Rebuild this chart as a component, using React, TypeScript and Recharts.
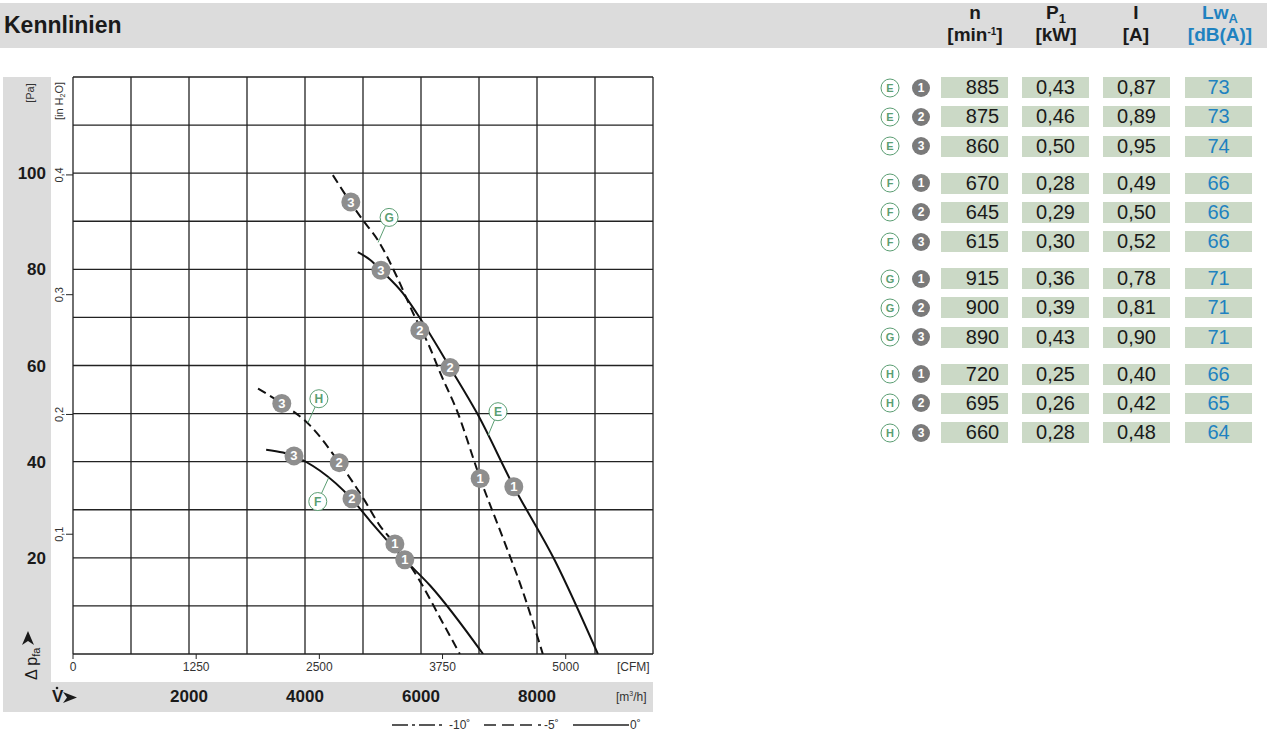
import React from 'react';
import { ComposedChart, Line, Scatter, XAxis, YAxis, CartesianGrid } from 'recharts';

// Kennlinien: Volumenstrom [m³/h] / Druckerhöhung [Pa]
const flowE = [4910, 5120, 5310, 5690, 5930, 6500, 6970, 7600, 8310, 9050];
const paE = [83.6, 82.0, 79.8, 75.0, 70.8, 59.6, 50.0, 34.8, 19.4, 0];
const flowF = [3330, 3620, 3800, 4260, 4800, 5120, 5720, 6160, 7070];
const paF = [42.5, 41.9, 41.2, 38.1, 32.3, 27.7, 19.6, 14.2, 0];
const flowG = [4480, 4780, 5000, 5260, 5590, 5860, 6150, 6330, 6620, 7020, 7410, 7710, 8100];
const paG = [99.6, 94.0, 90.2, 86.0, 78.3, 71.0, 63.8, 58.5, 50.6, 36.5, 24.2, 14.6, 0];
const flowH = [3190, 3600, 4090, 4590, 5030, 5290, 5550, 5980, 6330, 6670];
const paH = [55.2, 52.1, 47.5, 39.8, 31.9, 26.7, 22.9, 15.2, 7.5, 0];

// Betriebspunkte 1..3
const pointCurve = ['E', 'E', 'E', 'G', 'G', 'G', 'H', 'H', 'H', 'F', 'F', 'F'];
const pointNo = [3, 2, 1, 3, 2, 1, 3, 2, 1, 3, 2, 1];
const pointFlow = [5310, 6500, 7600, 4790, 5980, 7020, 3600, 4590, 5550, 3810, 4810, 5720];
const pointPa = [79.8, 59.6, 34.8, 94.0, 67.3, 36.5, 52.1, 39.8, 22.9, 41.2, 32.3, 19.6];

// Kurvenbuchstaben (Ankerpunkt auf der Kurve)
const labelCurve = ['G', 'H', 'E', 'F'];
const labelFlow = [5260, 4050, 7155, 4410];
const labelPa = [85.6, 48.1, 45.4, 36.7];

// Achsen
const paTicks = [20, 40, 60, 80, 100];
const inTicks = [0.1, 0.2, 0.3, 0.4];
const cfmTicks = [0, 1250, 2500, 3750, 5000];
const m3hTicks = [2000, 4000, 6000, 8000];
const gridFlow = [0, 1000, 2000, 3000, 4000, 5000, 6000, 7000, 8000, 9000, 10000];
const gridPa = [0, 10, 20, 30, 40, 50, 60, 70, 80, 90, 100, 110, 120];

// Tabelle
const rowCurve = ['E', 'E', 'E', 'F', 'F', 'F', 'G', 'G', 'G', 'H', 'H', 'H'];
const rowNo = [1, 2, 3, 1, 2, 3, 1, 2, 3, 1, 2, 3];
const speed = [885, 875, 860, 670, 645, 615, 915, 900, 890, 720, 695, 660];
const power = [0.43, 0.46, 0.50, 0.28, 0.29, 0.30, 0.36, 0.39, 0.43, 0.25, 0.26, 0.28];
const current = [0.87, 0.89, 0.95, 0.49, 0.50, 0.52, 0.78, 0.81, 0.90, 0.40, 0.42, 0.48];
const sound = [73, 73, 74, 66, 66, 66, 71, 71, 71, 66, 65, 64];

const PA_PER_INH2O = 249.089;
const M3H_PER_CFM = 1.69901;

const NARROW = "'Liberation Sans Narrow', 'Arial Narrow', 'Liberation Sans', sans-serif";
const GREY = '#dcdcdc';
const GREEN = '#5b9e73';
const BLUE = '#1f82c0';
const CELL = '#cbd9c6';
const INK = '#1a1a1a';

const labelOffset: Record<string, [number, number]> = { G: [11, -25], H: [11, -24], E: [10, -24], F: [-11, 24] };

const toXY = (flow: number[], pa: number[]) => flow.map((f, i) => ({ flow: f, pa: pa[i] }));
const dataE = toXY(flowE, paE);
const dataF = toXY(flowF, paF);
const dataG = toXY(flowG, paG);
const dataH = toXY(flowH, paH);
const points = pointFlow.map((f, i) => ({ flow: f, pa: pointPa[i], no: pointNo[i], curve: pointCurve[i] }));
const labels = labelFlow.map((f, i) => ({ flow: f, pa: labelPa[i], curve: labelCurve[i] }));

// CFM-Achse läuft in m³/h-Einheiten mit, Beschriftung zurückgerechnet
const cfmTicksInM3h = cfmTicks.map((c) => c * M3H_PER_CFM);

const comma = (v: number) => v.toFixed(2).replace('.', ',');

function PaTick({ x, y, payload }: any) {
  return (
    <text x={x} y={y} dy={6} textAnchor="end" fontSize={17} fontWeight="bold" fill={INK} fontFamily={NARROW}>
      {payload.value}
    </text>
  );
}

function InTick({ x, y, payload }: any) {
  return (
    <text transform={`translate(${x - 3},${y}) rotate(-90)`} textAnchor="middle" fontSize={11} fill="#333" fontFamily={NARROW}>
      {String(payload.value).replace('.', ',')}
    </text>
  );
}

function CfmTick({ x, y, payload }: any) {
  return (
    <text x={x} y={y} dy={10} textAnchor="middle" fontSize={12} fill="#333" fontFamily={NARROW}>
      {Math.round(payload.value / M3H_PER_CFM)}
    </text>
  );
}

function M3hTick({ x, y, payload }: any) {
  return (
    <text x={x} y={y} dy={26} textAnchor="middle" fontSize={17} fontWeight="bold" fill={INK} fontFamily={NARROW}>
      {payload.value}
    </text>
  );
}

function PointMark({ cx, cy, payload }: any) {
  return (
    <g>
      <circle cx={cx} cy={cy} r={9.5} fill="#8e8e8e" />
      <text x={cx} y={cy} dy={4.5} textAnchor="middle" fontSize={13} fontWeight="bold" fill="#fff" fontFamily={NARROW}>
        {payload.no}
      </text>
    </g>
  );
}

function LabelMark({ cx, cy, payload }: any) {
  const [dx, dy] = labelOffset[payload.curve];
  return (
    <g>
      <line x1={cx} y1={cy} x2={cx + dx} y2={cy + dy} stroke={GREEN} strokeWidth={1} />
      <circle cx={cx + dx} cy={cy + dy} r={9} fill="#fff" stroke={GREEN} strokeWidth={1} />
      <text x={cx + dx} y={cy + dy} dy={4.5} textAnchor="middle" fontSize={12} fontWeight="bold" fill={GREEN} fontFamily={NARROW}>
        {payload.curve}
      </text>
    </g>
  );
}

function Chart() {
  return (
    <ComposedChart width={660} height={746} margin={{ top: 77, right: 7, bottom: 34, left: 0 }}>
      <CartesianGrid
        xAxisId="m3h"
        yAxisId="pa"
        verticalValues={gridFlow}
        horizontalValues={gridPa}
        stroke="#222"
        strokeWidth={1.3}
      />
      <XAxis
        xAxisId="cfm"
        dataKey="flow"
        type="number"
        domain={[0, 10000]}
        allowDataOverflow
        ticks={cfmTicksInM3h}
        height={22}
        tickSize={5}
        tickMargin={2}
        axisLine={false}
        tickLine={{ stroke: '#222' }}
        tick={<CfmTick />}
        interval={0}
      />
      <XAxis
        xAxisId="m3h"
        dataKey="flow"
        type="number"
        domain={[0, 10000]}
        allowDataOverflow
        ticks={m3hTicks}
        height={36}
        tickSize={0}
        tickMargin={0}
        axisLine={false}
        tickLine={false}
        tick={<M3hTick />}
        interval={0}
      />
      <YAxis
        yAxisId="inh2o"
        type="number"
        domain={[0, 120 / PA_PER_INH2O]}
        allowDataOverflow
        ticks={inTicks}
        width={22}
        tickSize={7}
        tickMargin={0}
        axisLine={false}
        tickLine={{ stroke: '#222' }}
        tick={<InTick />}
        interval={0}
      />
      <YAxis
        yAxisId="pa"
        dataKey="pa"
        type="number"
        domain={[0, 120]}
        allowDataOverflow
        ticks={paTicks}
        width={51}
        tickSize={0}
        tickMargin={5}
        axisLine={false}
        tickLine={false}
        tick={<PaTick />}
        interval={0}
      />
      <Line xAxisId="m3h" yAxisId="pa" data={dataE} dataKey="pa" type="monotone" stroke="#111" strokeWidth={2} dot={false} isAnimationActive={false} />
      <Line xAxisId="m3h" yAxisId="pa" data={dataF} dataKey="pa" type="monotone" stroke="#111" strokeWidth={2} dot={false} isAnimationActive={false} />
      <Line xAxisId="m3h" yAxisId="pa" data={dataG} dataKey="pa" type="monotone" stroke="#111" strokeWidth={2} strokeDasharray="9 5" dot={false} isAnimationActive={false} />
      <Line xAxisId="m3h" yAxisId="pa" data={dataH} dataKey="pa" type="monotone" stroke="#111" strokeWidth={2} strokeDasharray="9 5" dot={false} isAnimationActive={false} />
      <Scatter xAxisId="cfm" yAxisId="pa" data={labels} dataKey="pa" shape={<LabelMark />} isAnimationActive={false} />
      <Scatter xAxisId="m3h" yAxisId="pa" data={points} dataKey="pa" shape={<PointMark />} isAnimationActive={false} />
    </ComposedChart>
  );
}

function Overlay() {
  return (
    <svg width={1267} height={746} style={{ position: 'absolute', left: 0, top: 0, pointerEvents: 'none' }} fontFamily={NARROW}>
      <text transform="translate(34,93) rotate(-90)" textAnchor="middle" fontSize={11} fill="#333">[Pa]</text>
      <text transform="translate(63,101) rotate(-90)" textAnchor="middle" fontSize={11} fill="#333">
        [in H<tspan fontSize={7} dy={2}>2</tspan><tspan dy={-2}>O]</tspan>
      </text>
      <text transform="translate(37,680) rotate(-90)" fontSize={16} fill={INK}>
        Δ p<tspan fontSize={11} dy={3}>fa</tspan>
      </text>
      <path d="M28 631 L34 645 L28 641 L22 645 Z" fill={INK} />
      <text x={52} y={702} fontSize={17} fontWeight="bold" fill={INK}>V</text>
      <circle cx={57} cy={688} r={1.3} fill={INK} />
      <path d="M63 692 L77 697.5 L63 703 L67 697.5 Z" fill={INK} />
      <text x={617} y={671} fontSize={12} fill="#333">[CFM]</text>
      <text x={616} y={701} fontSize={12} fill="#333">
        [m<tspan fontSize={7} dy={-5}>3</tspan><tspan dy={5}>/h]</tspan>
      </text>
      <line x1={392} y1={725} x2={446} y2={725} stroke="#222" strokeWidth={1.6} strokeDasharray="16 4 3 4" />
      <text x={449} y={729} fontSize={12} fill="#333">-10˚</text>
      <line x1={484} y1={725} x2={541} y2={725} stroke="#222" strokeWidth={1.6} strokeDasharray="12 6" />
      <text x={544} y={729} fontSize={12} fill="#333">-5˚</text>
      <line x1={573} y1={725} x2={629} y2={725} stroke="#222" strokeWidth={1.6} />
      <text x={630} y={729} fontSize={12} fill="#333">0˚</text>
    </svg>
  );
}

const colX = [941, 1022, 1103, 1185];
const colW = 67;

function Table() {
  const cells: React.ReactNode[] = [];
  rowCurve.forEach((c, i) => {
    const top = 77 + i * 29.4 + Math.floor(i / 3) * 7.3;
    const mid = top + 10.5;
    const values = [String(speed[i]), comma(power[i]), comma(current[i]), String(sound[i])];
    cells.push(
      <svg key={'m' + i} width={52} height={24} style={{ position: 'absolute', left: 878, top: mid - 12 }}>
        <circle cx={12} cy={12} r={9} fill="#fff" stroke={GREEN} strokeWidth={1} />
        <text x={12} y={16} textAnchor="middle" fontSize={11} fontWeight="bold" fill={GREEN} fontFamily={NARROW}>{c}</text>
        <circle cx={43} cy={12} r={9} fill="#7a7a7a" />
        <text x={43} y={16} textAnchor="middle" fontSize={12} fontWeight="bold" fill="#fff" fontFamily={NARROW}>{rowNo[i]}</text>
      </svg>
    );
    values.forEach((v, j) => {
      cells.push(
        <div
          key={'c' + i + '-' + j}
          style={{
            position: 'absolute',
            left: colX[j],
            top,
            width: colW,
            height: 21,
            background: CELL,
            color: j === 3 ? BLUE : INK,
            fontSize: 20,
            lineHeight: '21px',
            textAlign: 'center',
            paddingLeft: j === 0 ? 16 : 0,
            boxSizing: 'border-box',
            fontFamily: NARROW,
          }}
        >
          {v}
        </div>
      );
    });
  });
  return <>{cells}</>;
}

const headStyle: React.CSSProperties = {
  position: 'absolute',
  width: 90,
  textAlign: 'center',
  fontWeight: 'bold',
  fontFamily: NARROW,
  lineHeight: '20px',
  fontSize: 19,
  whiteSpace: 'nowrap',
};

const headCols = [
  { left: 930, color: INK, top: <>n</>, bottom: <>[min<span style={{ fontSize: 10, position: 'relative', top: -6 }}>-1</span>]</> },
  { left: 1011, color: INK, top: <>P<span style={{ fontSize: 13, position: 'relative', top: 4 }}>1</span></>, bottom: <>[kW]</> },
  { left: 1091, color: INK, top: <>I</>, bottom: <>[A]</> },
  { left: 1175, color: BLUE, top: <>Lw<span style={{ fontSize: 13, position: 'relative', top: 4 }}>A</span></>, bottom: <>[dB(A)]</> },
];

export default function App() {
  return (
    <div style={{ position: 'absolute', left: 0, top: 0, width: 1267, height: 746, background: '#fff', overflow: 'hidden' }}>
      <div style={{ position: 'absolute', left: 0, top: 3, width: 1267, height: 45, background: GREY }} />
      <div style={{ position: 'absolute', left: 3, top: 77, width: 48, height: 635, background: GREY }} />
      <div style={{ position: 'absolute', left: 3, top: 682, width: 650, height: 30, background: GREY }} />
      <div style={{ position: 'absolute', left: 4, top: 12, fontFamily: NARROW, fontWeight: 'bold', fontSize: 23, color: INK }}>Kennlinien</div>
      {headCols.map((h, i) => (
        <React.Fragment key={'h' + i}>
          <div style={{ ...headStyle, left: h.left, top: 3, color: h.color }}>{h.top}</div>
          <div style={{ ...headStyle, left: h.left, top: 25, color: h.color }}>{h.bottom}</div>
        </React.Fragment>
      ))}
      <div style={{ position: 'absolute', left: 0, top: 0 }}>
        <Chart />
      </div>
      <Overlay />
      <Table />
    </div>
  );
}
